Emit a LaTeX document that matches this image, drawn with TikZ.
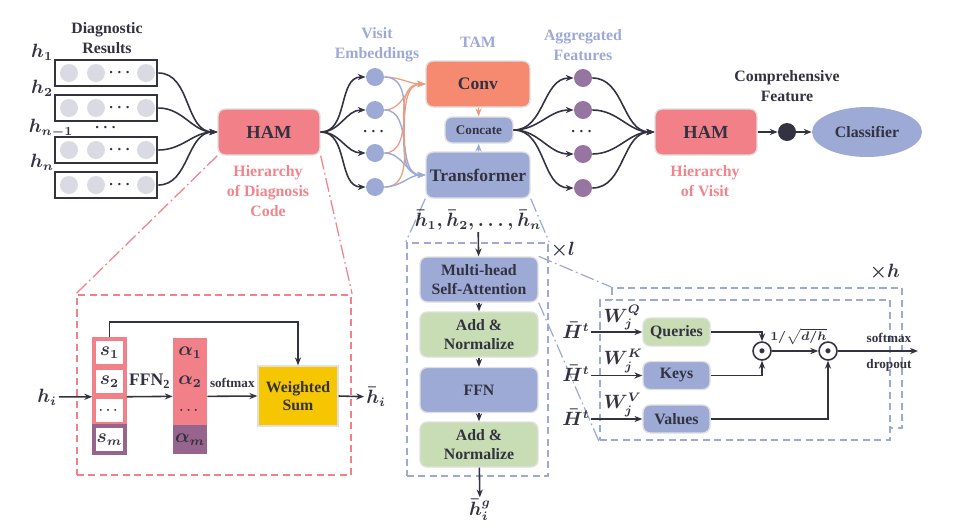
\documentclass[tikz,border=0pt]{standalone}
\usepackage{amsmath,bm}
\usepackage{fontspec}
\setmainfont{Liberation Serif}
\usetikzlibrary{positioning,arrows.meta,shapes.geometric}

\definecolor{hamred}{RGB}{242,128,136}
\definecolor{convred}{RGB}{245,138,112}
\definecolor{tblue}{RGB}{158,170,214}
\definecolor{tgreen}{RGB}{200,221,180}
\definecolor{wsyellow}{RGB}{246,198,0}
\definecolor{aggpurple}{RGB}{150,118,160}
\definecolor{dotgray}{RGB}{218,218,228}
\definecolor{txtdark}{RGB}{50,50,64}
\definecolor{lblpink}{RGB}{240,132,140}
\definecolor{lblblue}{RGB}{158,168,214}
\definecolor{alphadark}{RGB}{150,100,140}

\begin{document}
\begin{tikzpicture}[x=0.02cm,y=-0.02cm,
  font=\fontsize{9}{10.5}\selectfont\bfseries\boldmath, text=txtdark,
  >={Stealth[length=4.5pt,width=3.5pt]},
  arr/.style={->,draw=txtdark,line width=0.9pt},
  mth/.style={font=\fontsize{10.5}{12}\selectfont\bfseries\boldmath,inner sep=1pt},
  small/.style={font=\fontsize{7.5}{9}\selectfont\bfseries\boldmath},
  lbl/.style={align=center,font=\fontsize{9}{11.3}\selectfont\bfseries},
  pinklbl/.style={lbl,text=lblpink},
  bluelbl/.style={lbl,text=lblblue},
  box/.style={rounded corners=4pt,draw=black!12,line width=0.8pt,align=center,inner sep=1pt},
  ham/.style={box,fill=hamred,minimum width=2.04cm,minimum height=0.92cm,font=\fontsize{10.5}{12}\selectfont\bfseries},
  bigbox/.style={box,minimum width=2.08cm,minimum height=0.92cm,font=\fontsize{10}{12}\selectfont\bfseries},
  layer/.style={box,minimum width=2.36cm,minimum height=0.9cm},
  headbox/.style={box,minimum width=1.34cm,minimum height=0.56cm},
  drow/.style={rectangle,draw=txtdark,line width=1.6pt,minimum width=2.04cm,minimum height=0.52cm},
  emb/.style={circle,inner sep=0pt,minimum size=0.36cm},
  scell/.style={rectangle,fill=white,draw=hamred,line width=2pt,minimum width=0.62cm,minimum height=0.54cm,inner sep=0pt,mth},
  acell/.style={rectangle,fill=hamred,minimum width=0.68cm,minimum height=0.58cm,inner sep=0pt,mth},
  odot/.style={circle,draw=txtdark,line width=0.9pt,minimum size=0.36cm,inner sep=0pt},
  pinkdash/.style={draw=hamred,line width=1.3pt,dash pattern=on 4pt off 2.5pt},
  bluedash/.style={draw=tblue,line width=1.3pt,dash pattern=on 4pt off 2.5pt},
  pinkdd/.style={draw=hamred,line width=0.7pt,dash pattern=on 8pt off 2pt on 1pt off 2pt},
  bluedd/.style={draw=tblue,line width=0.7pt,dash pattern=on 8pt off 2pt on 1pt off 2pt},
  vline/.style={->,draw=tblue,line width=0.8pt},
  cline/.style={->,draw=convred!80!tgreen,line width=0.7pt}]
\useasboundingbox (0,0) rectangle (957,525);
%
% diagnostic results
\node[lbl] (diag) at (107,38) {Diagnostic\\Results};
\foreach \y/\n in {73/1,108/2,150/3,185/4}{
  \node[drow] (r\n) at (106,\y) {};
  \foreach \x in {69,96,146} \fill[dotgray] (\x,\y) circle[radius=0.18cm];
  \node at (121,\y) {$\cdots$};
}
\node[mth] (h1) at (42,52) {$\bm{h_1}$};
\node[mth] (h2) at (42,88) {$\bm{h_2}$};
\node[mth] (hn1) at (51,128) {$\bm{h_{n-1}}$};
\node[mth] (hn) at (42,162) {$\bm{h_n}$};
\node at (107,128) {$\cdots$};
%
\node[ham] (ham1) at (269,132) {HAM};
\node[pinklbl] at (268,191) {Hierarchy\\of Diagnosis\\Code};
\foreach \n in {1,...,4} \draw[arr] (r\n.east) to[out=0,in=180] (ham1.west);
%
% visit embeddings
\node[bluelbl] at (377,45) {Visit\\Embeddings};
\foreach \y/\n in {77/1,110/2,153/3,187/4}{
  \node[emb,fill=tblue] (v\n) at (375,\y) {};
  \draw[arr] (ham1.east) to[out=0,in=180] (v\n.west);
}
\node at (375,132) {$\cdots$};
%
% TAM
\node[bluelbl] at (478,42) {TAM};
\node[bigbox,fill=convred] (conv) at (478,84) {Conv};
\node[box,fill=tblue,minimum width=1.36cm,minimum height=0.52cm,font=\fontsize{7.5}{9}\selectfont\bfseries] (cc) at (479,130) {Concate};
\node[bigbox,fill=tblue] (tr) at (478,175) {Transformer};
\foreach \n in {1,...,4}{
  \draw[cline] (v\n.east) to[out=0,in=180] (conv.west);
  \draw[vline] (v\n.east) to[out=0,in=180] (tr.west);
}
\draw[cline] (conv) -- (cc);
\draw[vline] (tr) -- (cc);
%
% aggregated features
\node[bluelbl] at (583,45) {Aggregated\\Features};
\node[ham] (ham2) at (706,132) {HAM};
\foreach \y/\n in {78/1,110/2,154/3,188/4}{
  \node[emb,fill=aggpurple] (a\n) at (583,\y) {};
  \draw[arr] (cc.east) to[out=0,in=180] (a\n.west);
  \draw[arr] (a\n.east) to[out=0,in=180] (ham2.west);
}
\node at (583,132) {$\cdots$};
\node[pinklbl] at (705,181) {Hierarchy\\of Visit};
%
\node[emb,fill=txtdark] (cf) at (787,132) {};
\node[lbl] at (787,86) {Comprehensive\\Feature};
\node[ellipse,fill=tblue,minimum width=2.2cm,minimum height=1cm,font=\fontsize{9}{11}\selectfont\bfseries] (cls) at (867,132) {Classifier};
\draw[arr] (ham2) -- (cf);
\draw[arr] (cf) -- (cls);
%
% HAM detail
\node[pinkdash,minimum width=5.48cm,minimum height=3.6cm] (hdet) at (214,385) {};
\draw[pinkdd] (ham1.south west) -- (hdet.north west);
\draw[pinkdd] (ham1.south east) -- (hdet.north east);
\node[scell] (s1) at (109.5,352.5) {$\bm{s_1}$};
\node[scell] (s2) at (109.5,381.5) {$\bm{s_2}$};
\node[scell,small] (s3) at (109.5,410.5) {$\cdots$};
\node[scell,draw=alphadark] (s4) at (109.5,439.5) {$\bm{s_m}$};
\node[acell] (al1) at (190,352.5) {$\bm{\alpha_1}$};
\node[acell] (al2) at (190,381.5) {$\bm{\alpha_2}$};
\node[acell,small] (al3) at (190,410.5) {$\cdots$};
\node[acell,fill=alphadark] (al4) at (190,439.5) {$\bm{\alpha_m}$};
\node[box,fill=wsyellow,minimum width=1.6cm,minimum height=1.2cm,rounded corners=0pt] (ws) at (298,396) {Weighted\\Sum};
\node[mth] (hi) at (47,397) {$\bm{h_i}$};
\node[mth] (hbar) at (376,397) {$\bm{\bar h_i}$};
\draw[arr] (hi) -- (s2.south west);
\draw[arr] (s2.south east) -- node[above=1pt,font=\fontsize{10}{12}\selectfont\bfseries] {FFN$_\mathbf{2}$} (al2.south west);
\draw[arr] (al2.south east) -- node[above=1pt,small] {softmax} (ws.west);
\draw[arr] (ws.east) -- (hbar);
\draw[arr] (s1.north) -- ++(0,-15) -| (ws.north);
%
% Transformer detail
\node[bluedash,minimum width=2.82cm,minimum height=4.66cm] (tdet) at (477.5,359.5) {};
\draw[bluedd] (tr.south west) -- (tdet.north west);
\draw[bluedd] (tr.south east) -- (tdet.north east);
\node[mth] (hseq) at (478,220) {$\bm{\bar h_1,\bar h_2,\ldots,\bar h_n}$};
\node[layer,fill=tblue] (mhsa) at (479,279.5) {Multi-head\\Self-Attention};
\node[layer,fill=tgreen] (an1) at (479,334.5) {Add \&\\Normalize};
\node[layer,fill=tblue] (ffn) at (479,390) {FFN};
\node[layer,fill=tgreen] (an2) at (479,444.5) {Add \&\\Normalize};
\node[mth] (hig) at (480,510) {$\bm{\bar h_i^g}$};
\node[mth] at (563,250) {$\bm{\times l}$};
\draw[arr] (hseq) -- (mhsa);
\draw[arr] (mhsa) -- (an1);
\draw[arr] (an1) -- (ffn);
\draw[arr] (ffn) -- (an2);
\draw[arr] (an2) -- (hig);
%
% multi-head detail
\node[bluedash,minimum width=5.8cm,minimum height=2.8cm] (hout) at (757,358) {};
\node[bluedash,fill=white,minimum width=5.8cm,minimum height=2.8cm] (hin) at (745,370) {};
\draw[bluedd] (mhsa.north east) -- (hout.north west);
\draw[bluedd] (mhsa.south east) -- (hin.south west);
\node[mth] at (885,272) {$\bm{\times h}$};
\node[headbox,fill=tgreen] (q) at (676.5,332) {Queries};
\node[headbox,fill=tblue] (k) at (676.5,375.5) {Keys};
\node[headbox,fill=tblue] (val) at (676.5,419) {Values};
\node[mth,inner sep=0.5pt] (hq) at (576,330) {$\bm{\bar H^t}$};
\node[mth,inner sep=0.5pt] (hk) at (576,373) {$\bm{\bar H^t}$};
\node[mth,inner sep=0.5pt] (hv) at (576,417) {$\bm{\bar H^t}$};
\draw[arr] (hq.east |- q) -- node[anchor=south west,pos=0.2,mth] {$\bm{W_j^Q}$} (q);
\draw[arr] (hk.east |- k) -- node[anchor=south west,pos=0.2,mth] {$\bm{W_j^K}$} (k);
\draw[arr] (hv.east |- val) -- node[anchor=south west,pos=0.2,mth] {$\bm{W_j^V}$} (val);
\node[odot] (m1) at (762,351) {\tiny$\bullet$};
\node[odot] (m2) at (828,351) {\tiny$\bullet$};
\coordinate (hout2) at (918,351);
\draw[arr] (q.east) -| (m1.north);
\draw[arr] (k.east) -| (m1.south);
\draw[arr] (val.east) -| (m2.south);
\draw[arr] (m1) -- node[above=0pt,small,xshift=2pt] {$\bm{1/\sqrt{d/h}}$} (m2);
\draw[arr] (m2) -- (hout2);
\node[small] at (889,338) {softmax};
\node[small] at (889,365) {dropout};
\end{tikzpicture}
\end{document}
